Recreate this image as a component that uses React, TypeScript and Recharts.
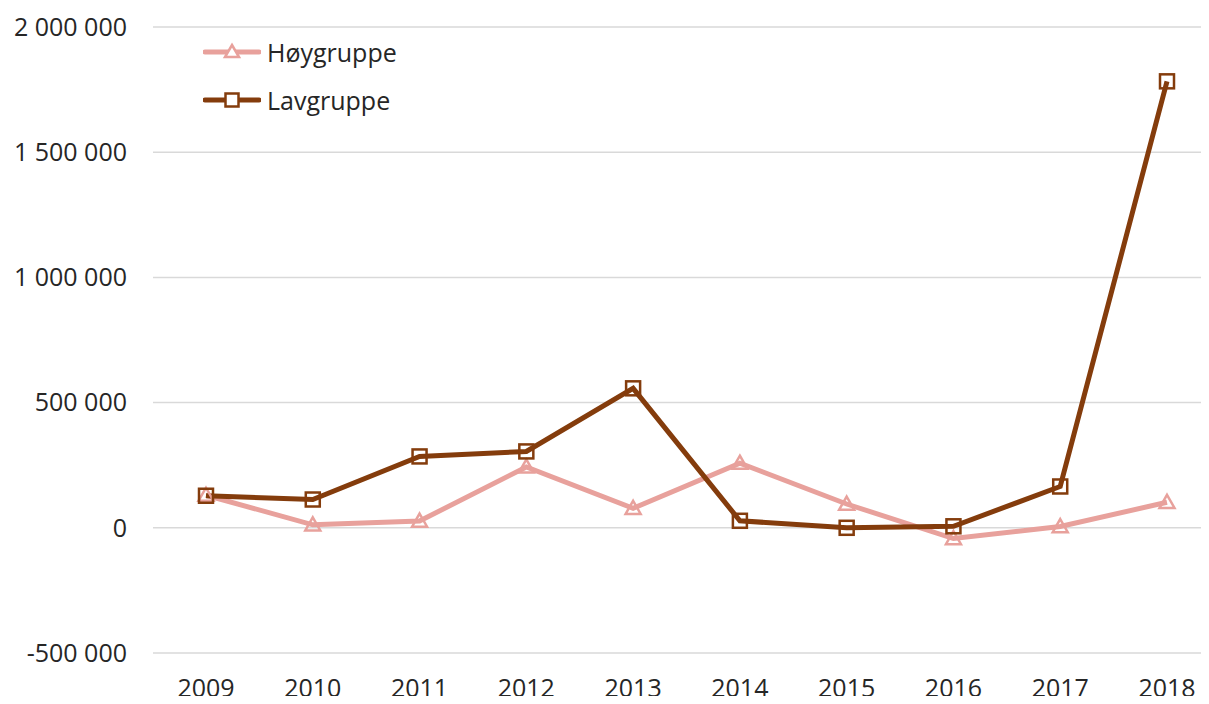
import React from "react";
import { LineChart, Line, XAxis, YAxis, CartesianGrid } from "recharts";

const years = ["2009", "2010", "2011", "2012", "2013", "2014", "2015", "2016", "2017", "2018"];
const hoygruppe = [130000, 12000, 27000, 243000, 78000, 258000, 95000, -43000, 5000, 102000];
const lavgruppe = [128000, 113000, 285000, 305000, 557000, 28000, 0, 6000, 165000, 1783000];
const yTicks = [-500000, 0, 500000, 1000000, 1500000, 2000000];

const HOY = "#E8A19C";
const LAV = "#843C0C";
const FONT = "'Open Sans', sans-serif";

const data = years.map((year, i) => ({ year, hoy: hoygruppe[i], lav: lavgruppe[i] }));

const fmt = (v: number) => {
  const s = String(Math.abs(v)).replace(/\B(?=(\d{3})+(?!\d))/g, " ");
  return v < 0 ? "-" + s : s;
};

const TriangleDot = (props: any) => {
  const { cx, cy, index } = props;
  if (cx == null || cy == null) return null;
  const r = 7.5;
  return (
    <path
      key={`t-${index}`}
      d={`M${cx},${cy - r} L${cx + r},${cy + r * 0.75} L${cx - r},${cy + r * 0.75} Z`}
      fill="none"
      stroke={HOY}
      strokeWidth={2.5}
    />
  );
};

const SquareDot = (props: any) => {
  const { cx, cy, index } = props;
  if (cx == null || cy == null) return null;
  const r = 7;
  return (
    <rect
      key={`s-${index}`}
      x={cx - r}
      y={cy - r}
      width={r * 2}
      height={r * 2}
      fill="none"
      stroke={LAV}
      strokeWidth={2.5}
    />
  );
};

// legend drawn as an overlay so it doesn't eat plot space
const LegendBox = () => {
  const items = [
    { name: "Høygruppe", color: HOY, shape: "tri" },
    { name: "Lavgruppe", color: LAV, shape: "sq" },
  ];
  return (
    <div
      style={{
        position: "absolute",
        left: 203,
        top: 28,
        fontFamily: FONT,
        fontSize: 25,
        color: "#262626",
      }}
    >
      {items.map((it) => (
        <div key={it.name} style={{ display: "flex", alignItems: "center", height: 48 }}>
          <svg width={58} height={20} style={{ marginRight: 6 }}>
            <line x1={2} y1={10} x2={56} y2={10} stroke={it.color} strokeWidth={5} strokeLinecap="round" />
            {it.shape === "tri" ? (
              <path d="M29,3 L36,15 L22,15 Z" fill="#fff" stroke={it.color} strokeWidth={2.5} />
            ) : (
              <rect x={22.5} y={3.5} width={13} height={13} fill="#fff" stroke={it.color} strokeWidth={2.5} />
            )}
          </svg>
          <span>{it.name}</span>
        </div>
      ))}
    </div>
  );
};

export default function App() {
  return (
    <div
      style={{
        position: "relative",
        margin: -8,
        width: 1209,
        height: 704,
        overflow: "hidden",
        background: "#fff",
      }}
    >
      <LineChart
        width={1220}
        height={704}
        data={data}
        margin={{ top: 27, right: 0, bottom: 11, left: 0 }}
      >
        <CartesianGrid vertical={false} stroke="#d9d9d9" strokeWidth={1.5} />
        <XAxis
          dataKey="year"
          axisLine={false}
          tickLine={false}
          height={40}
          padding={{ left: 53, right: 53 }}
          tickMargin={20}
          tick={{ fontFamily: FONT, fontSize: 25, fill: "#262626" }}
        />
        <YAxis
          width={153}
          domain={[-500000, 2000000]}
          ticks={yTicks}
          tickFormatter={fmt}
          axisLine={false}
          tickLine={false}
          tickSize={0}
          tickMargin={26}
          tick={{ fontFamily: FONT, fontSize: 25, fill: "#262626" }}
        />
        <Line
          dataKey="hoy"
          name="Høygruppe"
          stroke={HOY}
          strokeWidth={5}
          dot={<TriangleDot />}
          activeDot={false}
          isAnimationActive={false}
        />
        <Line
          dataKey="lav"
          name="Lavgruppe"
          stroke={LAV}
          strokeWidth={5}
          dot={<SquareDot />}
          activeDot={false}
          isAnimationActive={false}
        />
      </LineChart>
      <LegendBox />
    </div>
  );
}
